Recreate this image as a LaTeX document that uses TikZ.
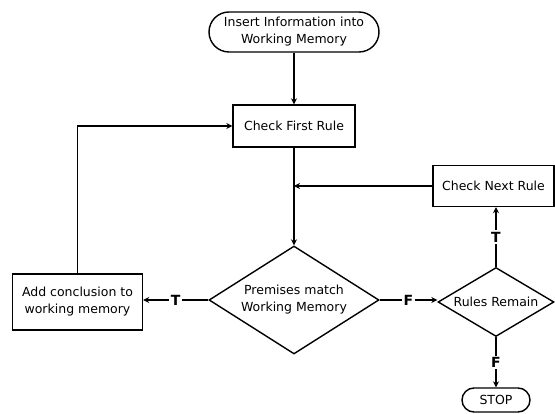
\documentclass[tikz,border=0pt]{standalone}
\usepackage{fontspec}
\setmainfont{DejaVu Sans}
\usetikzlibrary{shapes.geometric,arrows.meta}
\tikzset{
  base/.style={draw, line width=1.4pt, font=\fontsize{12.5}{17}\selectfont, align=center, inner sep=0pt},
  box/.style={base, rectangle},
  term/.style={base, rectangle, rounded corners=#1},
  dia/.style={base, diamond, aspect=#1},
  conn/.style={line width=1.4pt, -{Stealth[length=6pt,width=6pt]}},
  plain/.style={line width=1.4pt},
  lab/.style={fill=white, font=\bfseries\fontsize{14}{16}\selectfont, inner sep=1.5pt}
}
\begin{document}
\begin{tikzpicture}[x=1pt,y=-1pt]
\useasboundingbox (0,0) rectangle (555,414);
\node[term=20pt, minimum width=170pt, minimum height=40pt] (start) at (294,32) {Insert Information into\\Working Memory};
\node[box, minimum width=122pt, minimum height=42pt] (first) at (294,126) {Check First Rule};
\node[box, minimum width=121pt, minimum height=41pt] (next) at (493.5,186) {Check Next Rule};
\node[dia=1.6, minimum width=170pt, minimum height=108pt] (prem) at (294,300) {Premises match\\Working Memory};
\node[dia=1.68, minimum width=116pt, minimum height=69pt] (rules) at (496,302) {Rules Remain};
\node[box, minimum width=130pt, minimum height=56pt] (add) at (77.5,302) {Add conclusion to\\working memory};
\node[term=12pt, minimum width=68pt, minimum height=24pt] (stop) at (496,400) {STOP};
\coordinate (j) at (294,186);
\coordinate (corner) at (77.5,126);
\draw[conn] (start) -- (first);
\draw[plain] (first) -- (j);
\draw[conn] (j) -- (prem.north);
\draw[conn] (next.west) -- (j);
\draw[conn] (prem.west) -- node[lab]{T} (add.east |- prem.west);
\draw[conn] (prem.east) -- node[lab]{F} (rules.west |- prem.east);
\draw[conn] (rules.north) -- node[lab]{T} (rules.north |- next.south);
\draw[conn] (rules.south) -- node[lab]{F} (stop.north);
\draw[conn] (add.north) -- (corner) -- (first.west);
\end{tikzpicture}
\end{document}
